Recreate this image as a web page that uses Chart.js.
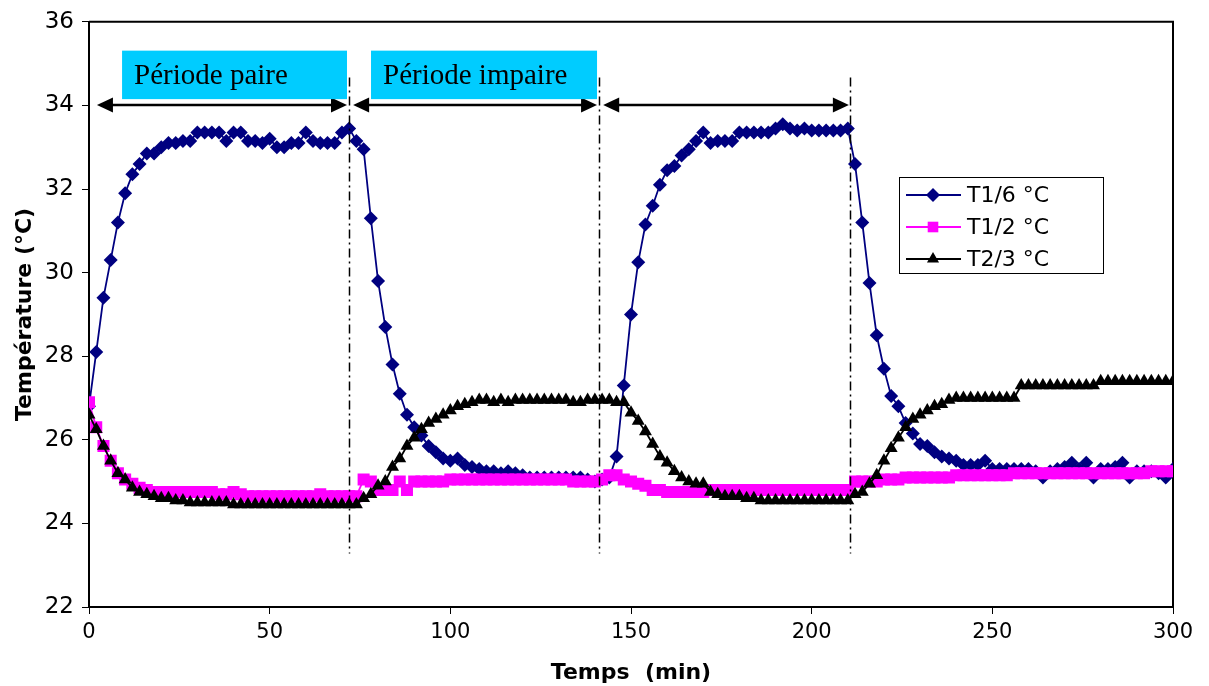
<!DOCTYPE html>
<html lang="fr">
<head>
<meta charset="utf-8">
<title>Températures</title>
<script src="https://cdn.jsdelivr.net/npm/chart.js@4.4.1/dist/chart.umd.min.js"></script>
<style>
  html, body { margin: 0; padding: 0; background: #fff; }
  #wrap { position: relative; width: 1209px; height: 686px; }
</style>
</head>
<body>
<div id="wrap"><canvas id="chart" width="1209" height="686"></canvas></div>
<script>
(function() {
  'use strict';

  // time (min), one reading every 2 min
  var temps = [
    0, 2, 4, 6, 8, 10, 12, 14, 16, 18,
    20, 22, 24, 26, 28, 30, 32, 34, 36, 38,
    40, 42, 44, 46, 48, 50, 52, 54, 56, 58,
    60, 62, 64, 66, 68, 70, 72, 74, 76, 78,
    80, 82, 84, 86, 88, 90, 92, 94, 96, 98,
    100, 102, 104, 106, 108, 110, 112, 114, 116, 118,
    120, 122, 124, 126, 128, 130, 132, 134, 136, 138,
    140, 142, 144, 146, 148, 150, 152, 154, 156, 158,
    160, 162, 164, 166, 168, 170, 172, 174, 176, 178,
    180, 182, 184, 186, 188, 190, 192, 194, 196, 198,
    200, 202, 204, 206, 208, 210, 212, 214, 216, 218,
    220, 222, 224, 226, 228, 230, 232, 234, 236, 238,
    240, 242, 244, 246, 248, 250, 252, 254, 256, 258,
    260, 262, 264, 266, 268, 270, 272, 274, 276, 278,
    280, 282, 284, 286, 288, 290, 292, 294, 296, 298,
    300
  ];

  var t16 = [
    26.8, 28.1, 29.4, 30.3, 31.2, 31.9, 32.35, 32.6, 32.85, 32.85,
    33.0, 33.1, 33.1, 33.15, 33.15, 33.35, 33.35, 33.35, 33.35, 33.15,
    33.35, 33.35, 33.15, 33.15, 33.1, 33.2, 33.0, 33.0, 33.1, 33.1,
    33.35, 33.15, 33.1, 33.1, 33.1, 33.35, 33.45, 33.15, 32.95, 31.3,
    29.8, 28.7, 27.8, 27.1, 26.6, 26.3, 26.1, 25.85, 25.7, 25.55,
    25.5, 25.55, 25.4, 25.35, 25.3, 25.25, 25.25, 25.2, 25.25, 25.2,
    25.15, 25.1, 25.1, 25.1, 25.1, 25.1, 25.1, 25.1, 25.1, 25.05,
    25.0, 25.05, 25.1, 25.6, 27.3, 29.0, 30.25, 31.15, 31.6, 32.1,
    32.45, 32.55, 32.8, 32.95, 33.15, 33.35, 33.1, 33.15, 33.15, 33.15,
    33.35, 33.35, 33.35, 33.35, 33.35, 33.45, 33.55, 33.45, 33.4, 33.45,
    33.4, 33.4, 33.4, 33.4, 33.4, 33.45, 32.6, 31.2, 29.75, 28.5,
    27.7, 27.05, 26.8, 26.4, 26.15, 25.9, 25.85, 25.7, 25.6, 25.55,
    25.5, 25.4, 25.4, 25.4, 25.5, 25.3, 25.3, 25.3, 25.3, 25.3,
    25.3, 25.25, 25.1, 25.25, 25.3, 25.35, 25.45, 25.3, 25.45, 25.1,
    25.3, 25.3, 25.35, 25.45, 25.1, 25.25, 25.25, 25.25, 25.2, 25.1,
    25.3
  ];

  var t12 = [
    26.9, 26.3, 25.85, 25.5, 25.2, 25.05, 24.95, 24.85, 24.8, 24.75,
    24.75, 24.75, 24.75, 24.75, 24.75, 24.75, 24.75, 24.75, 24.7, 24.7,
    24.75, 24.7, 24.65, 24.65, 24.65, 24.65, 24.65, 24.65, 24.65, 24.65,
    24.65, 24.65, 24.7, 24.65, 24.65, 24.65, 24.65, 24.65, 25.05, 25.0,
    24.8, 24.8, 24.8, 25.0, 24.8, 25.0, 25.0, 25.0, 25.0, 25.0,
    25.05, 25.05, 25.05, 25.05, 25.05, 25.05, 25.05, 25.05, 25.05, 25.05,
    25.05, 25.05, 25.05, 25.05, 25.05, 25.05, 25.05, 25.0, 25.0, 25.0,
    25.0, 25.05, 25.15, 25.15, 25.05, 25.0, 24.95, 24.9, 24.8, 24.8,
    24.75, 24.75, 24.75, 24.75, 24.75, 24.75, 24.8, 24.8, 24.8, 24.8,
    24.8, 24.8, 24.8, 24.8, 24.8, 24.8, 24.8, 24.8, 24.8, 24.8,
    24.8, 24.8, 24.8, 24.8, 24.8, 24.8, 25.0, 25.0, 25.0, 25.0,
    25.05, 25.05, 25.05, 25.1, 25.1, 25.1, 25.1, 25.1, 25.1, 25.1,
    25.15, 25.15, 25.15, 25.15, 25.15, 25.15, 25.15, 25.15, 25.2, 25.2,
    25.2, 25.2, 25.2, 25.2, 25.2, 25.2, 25.2, 25.2, 25.2, 25.2,
    25.2, 25.2, 25.2, 25.2, 25.2, 25.2, 25.2, 25.25, 25.25, 25.25,
    25.25
  ];

  var t23 = [
    26.6, 26.25, 25.85, 25.5, 25.2, 25.05, 24.85, 24.75, 24.7, 24.65,
    24.6, 24.6, 24.55, 24.55, 24.5, 24.5, 24.5, 24.5, 24.5, 24.5,
    24.45, 24.45, 24.45, 24.45, 24.45, 24.45, 24.45, 24.45, 24.45, 24.45,
    24.45, 24.45, 24.45, 24.45, 24.45, 24.45, 24.45, 24.45, 24.6, 24.7,
    24.9, 25.0, 25.35, 25.55, 25.85, 26.05, 26.25, 26.4, 26.5, 26.6,
    26.7, 26.8, 26.85, 26.9, 26.95, 26.95, 26.9, 26.95, 26.9, 26.95,
    26.95, 26.95, 26.95, 26.95, 26.95, 26.95, 26.95, 26.9, 26.9, 26.95,
    26.95, 26.95, 26.95, 26.9, 26.9, 26.65, 26.45, 26.2, 25.9, 25.6,
    25.45, 25.25, 25.1, 25.0, 24.95, 24.95, 24.75, 24.7, 24.65, 24.65,
    24.65, 24.6, 24.6, 24.55, 24.55, 24.55, 24.55, 24.55, 24.55, 24.55,
    24.55, 24.55, 24.55, 24.55, 24.55, 24.55, 24.7, 24.75, 24.95, 25.15,
    25.5, 25.8, 26.05, 26.3, 26.5, 26.6, 26.7, 26.8, 26.85, 26.95,
    27.0, 27.0, 27.0, 27.0, 27.0, 27.0, 27.0, 27.0, 27.0, 27.3,
    27.3, 27.3, 27.3, 27.3, 27.3, 27.3, 27.3, 27.3, 27.3, 27.3,
    27.4, 27.4, 27.4, 27.4, 27.4, 27.4, 27.4, 27.4, 27.4, 27.4,
    27.4
  ];

  var xTicks = [0, 50, 100, 150, 200, 250, 300];
  var yTicks = [22, 24, 26, 28, 30, 32, 34, 36];

  // period markers, in axis units (min / °C)
  var SEPARATORS = [72, 141.2, 210.6];
  var SEP_TOP = 34.67, SEP_BOTTOM = 23.28;
  var ARROW_Y = 34;
  var ARROWS = [[2.2, 71.4], [73.1, 140.6], [142.3, 210.3]];
  var PERIOD_BOXES = [
    { text: 'Période paire', from: 9.15, to: 71.4 },
    { text: 'Période impaire', from: 78.05, to: 140.6 }
  ];
  var BOX_TOP = 35.31, BOX_BOTTOM = 34.15;

  var SANS = '"DejaVu Sans", Verdana, sans-serif';

  function points(values) {
    return temps.map(function(t, i) { return { x: t, y: values[i] }; });
  }

  function marker(ctx, style, x, y, r) {
    ctx.beginPath();
    if (style === 'rectRot') {
      ctx.moveTo(x - r, y); ctx.lineTo(x, y - r); ctx.lineTo(x + r, y); ctx.lineTo(x, y + r);
    } else if (style === 'rect') {
      var s = r * Math.SQRT1_2;
      ctx.rect(x - s, y - s, 2 * s, 2 * s);
    } else {
      ctx.moveTo(x, y - r);
      ctx.lineTo(x + r * 0.866, y + r * 0.5);
      ctx.lineTo(x - r * 0.866, y + r * 0.5);
    }
    ctx.closePath();
    ctx.fill();
  }

  function arrowHead(ctx, x, y, dir) {
    ctx.beginPath();
    ctx.moveTo(x, y);
    ctx.lineTo(x - dir * 16, y - 7.5);
    ctx.lineTo(x - dir * 16, y + 7.5);
    ctx.closePath();
    ctx.fill();
  }

  var periodsPlugin = {
    id: 'periods',
    beforeDatasetsDraw: function(chart) {
      // close the frame on top and right
      var a = chart.chartArea, ctx = chart.ctx;
      ctx.save();
      ctx.strokeStyle = '#000';
      ctx.lineWidth = 2;
      ctx.beginPath();
      ctx.moveTo(a.left, a.top); ctx.lineTo(a.right, a.top); ctx.lineTo(a.right, a.bottom);
      ctx.stroke();
      ctx.restore();
    },
    afterDatasetsDraw: function(chart) {
      var ctx = chart.ctx, x = chart.scales.x, y = chart.scales.y;
      ctx.save();

      // dash-dot separators between periods
      ctx.strokeStyle = '#000';
      ctx.lineWidth = 1.5;
      ctx.setLineDash([9, 4, 2, 4]);
      SEPARATORS.forEach(function(m) {
        var px = Math.round(x.getPixelForValue(m)) + 0.5;
        ctx.beginPath();
        ctx.moveTo(px, y.getPixelForValue(SEP_TOP));
        ctx.lineTo(px, y.getPixelForValue(SEP_BOTTOM));
        ctx.stroke();
      });
      ctx.setLineDash([]);

      // double arrows spanning each period
      var ay = Math.round(y.getPixelForValue(ARROW_Y));
      ctx.lineWidth = 2.5;
      ctx.fillStyle = '#000';
      ARROWS.forEach(function(ar) {
        var x0 = x.getPixelForValue(ar[0]), x1 = x.getPixelForValue(ar[1]);
        ctx.beginPath();
        ctx.moveTo(x0 + 10, ay); ctx.lineTo(x1 - 10, ay);
        ctx.stroke();
        arrowHead(ctx, x0, ay, -1);
        arrowHead(ctx, x1, ay, 1);
      });

      // period labels
      var bt = y.getPixelForValue(BOX_TOP), bb = y.getPixelForValue(BOX_BOTTOM);
      PERIOD_BOXES.forEach(function(b) {
        var bx0 = x.getPixelForValue(b.from), bx1 = x.getPixelForValue(b.to);
        ctx.fillStyle = '#00CCFF';
        ctx.fillRect(bx0, bt, bx1 - bx0, bb - bt);
        ctx.fillStyle = '#000';
        ctx.font = '29px "Liberation Serif", "Times New Roman", serif';
        ctx.textBaseline = 'alphabetic';
        ctx.textAlign = 'left';
        ctx.fillText(b.text, bx0 + 12, bt + 33);
      });

      // legend
      var lx = 899, ly = 177, lw = 204, lh = 96;
      ctx.fillStyle = '#fff';
      ctx.fillRect(lx, ly, lw, lh);
      ctx.strokeStyle = '#000';
      ctx.lineWidth = 1;
      ctx.strokeRect(lx + 0.5, ly + 0.5, lw, lh);
      ctx.font = '22px ' + SANS;
      ctx.textBaseline = 'middle';
      chart.data.datasets.forEach(function(ds, i) {
        var cy = ly + 18 + i * 32;
        ctx.strokeStyle = ds.borderColor;
        ctx.lineWidth = 2;
        ctx.beginPath();
        ctx.moveTo(lx + 7, cy); ctx.lineTo(lx + 62, cy);
        ctx.stroke();
        ctx.fillStyle = ds.pointBackgroundColor;
        marker(ctx, ds.pointStyle, lx + 34, cy, ds.pointStyle === 'rect' ? 7.5 : 7);
        ctx.fillStyle = '#000';
        ctx.fillText(ds.label, lx + 68, cy + 1);
      });

      ctx.restore();
    }
  };

  function series(label, values, color, style, radius, order) {
    return {
      label: label,
      data: points(values),
      borderColor: color,
      backgroundColor: color,
      pointBackgroundColor: color,
      pointBorderWidth: 0,
      pointStyle: style,
      pointRadius: radius,
      borderWidth: 1.8,
      tension: 0,
      order: order
    };
  }

  new Chart(document.getElementById('chart').getContext('2d'), {
    type: 'line',
    data: {
      datasets: [
        series('T1/6 °C', t16, '#000080', 'rectRot', 7, 2),
        series('T1/2 °C', t12, '#FF00FF', 'rect', 8.5, 1),
        series('T2/3 °C', t23, '#000000', 'triangle', 7.5, 0)
      ]
    },
    options: {
      responsive: false,
      animation: false,
      events: [],
      layout: { padding: { top: 17, right: 36, left: 0, bottom: 0 } },
      plugins: {
        legend: { display: false },
        tooltip: { enabled: false }
      },
      scales: {
        x: {
          type: 'linear',
          min: 0, max: 300,
          afterBuildTicks: function(s) { s.ticks = xTicks.map(function(v) { return { value: v }; }); },
          afterFit: function(s) { s.height = 79; },
          grid: { drawOnChartArea: false, drawTicks: true, tickLength: 7, color: '#000', lineWidth: 1 },
          border: { display: true, color: '#000', width: 2 },
          ticks: { color: '#000', font: { family: SANS, size: 21 }, padding: 6, maxRotation: 0 },
          title: {
            display: true, text: 'Temps  (min)', color: '#000',
            font: { family: SANS, size: 22, weight: 'bold' },
            padding: { top: 0, bottom: 0 }
          }
        },
        y: {
          min: 22, max: 36,
          afterBuildTicks: function(s) { s.ticks = yTicks.map(function(v) { return { value: v }; }); },
          afterFit: function(s) { s.width = 89; },
          grid: { drawOnChartArea: false, drawTicks: true, tickLength: 7, color: '#000', lineWidth: 1 },
          border: { display: true, color: '#000', width: 2 },
          ticks: { color: '#000', font: { family: SANS, size: 23 }, padding: 8 },
          title: {
            display: true, text: 'Température (°C)', color: '#000',
            font: { family: SANS, size: 22, weight: 'bold' },
            padding: { top: 12, bottom: 0 }
          }
        }
      }
    },
    plugins: [periodsPlugin]
  });
})();
</script>
</body>
</html>
